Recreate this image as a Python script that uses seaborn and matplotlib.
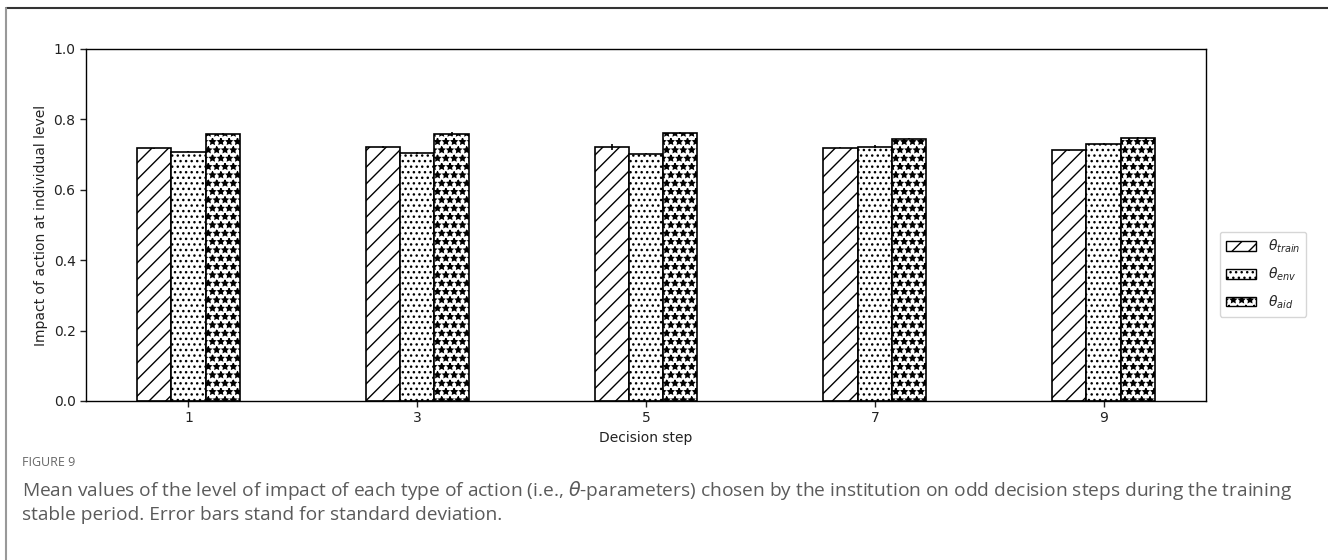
import matplotlib
matplotlib.use("Agg")
import matplotlib.pyplot as plt
import seaborn as sns
import pandas as pd
import numpy as np
from matplotlib.lines import Line2D
from matplotlib.patches import Patch

steps = ["1", "3", "5", "7", "9"]
series = [r"$\theta_{train}$", r"$\theta_{env}$", r"$\theta_{aid}$"]
train_mean = [0.718, 0.722, 0.722, 0.720, 0.712]
env_mean = [0.708, 0.705, 0.703, 0.722, 0.730]
aid_mean = [0.758, 0.758, 0.762, 0.745, 0.748]
train_sd = [0.002, 0.002, 0.008, 0.002, 0.002]
env_sd = [0.002, 0.002, 0.002, 0.004, 0.002]
aid_sd = [0.003, 0.005, 0.003, 0.002, 0.002]
hatches = ["//", "...", "**"]

means = [train_mean, env_mean, aid_mean]
sds = [train_sd, env_sd, aid_sd]
rows = []
for s, m, e in zip(series, means, sds):
    for st, v, d in zip(steps, m, e):
        rows.append({"step": st, "series": s, "value": v, "sd": d})
df = pd.DataFrame(rows)

sns.set_theme(style="white")
plt.rcParams["font.family"] = ["DejaVu Sans"]
plt.rcParams["hatch.linewidth"] = 1.0

fig = plt.figure(figsize=(13.28, 5.6), dpi=100)
ax = fig.add_axes([86 / 1328, 1 - 401 / 560, 1120 / 1328, 352 / 560])

sns.barplot(data=df, x="step", y="value", hue="series", hue_order=series,
            order=steps, width=0.45, errorbar=None, ax=ax,
            palette=["white"] * 3, edgecolor="black", linewidth=1.2,
            legend=False)

bar_containers = list(ax.containers)
for i, cont in enumerate(bar_containers):
    for bar, d in zip(cont, sds[i]):
        bar.set_hatch(hatches[i])
        bar.set_edgecolor("black")
        bar.set_facecolor("white")
        cx = bar.get_x() + bar.get_width() / 2
        ax.errorbar(cx, bar.get_height(), yerr=d, color="black",
                    linewidth=1.2, capsize=0)

ax.set_ylim(0, 1.0)
ax.set_xlim(-0.4475, 4.4475)
ax.set_yticks([0.0, 0.2, 0.4, 0.6, 0.8, 1.0])
ax.set_xlabel("Decision step", fontsize=10, color="#222222")
ax.set_ylabel("Impact of action at individual level", fontsize=10, color="#222222")
ax.tick_params(axis="both", labelsize=10, length=4, width=1, direction="out",
               bottom=True, left=True, colors="#222222")
for sp in ax.spines.values():
    sp.set_color("black")
    sp.set_linewidth(1.0)

handles = [Patch(facecolor="white", edgecolor="black", hatch=h) for h in hatches]
leg = ax.legend(handles, series, loc="center left", bbox_to_anchor=(1.006, 0.36),
                fontsize=10, frameon=True, handlelength=2.2, borderpad=0.45,
                labelspacing=0.75)
leg.get_frame().set_edgecolor("#cccccc")

# figure frame lines
fig.add_artist(Line2D([6 / 1328, 1], [1 - 8 / 560, 1 - 8 / 560], color="#333333", lw=1.5))
fig.add_artist(Line2D([6 / 1328, 6 / 1328], [0, 1 - 8 / 560], color="#999999", lw=1.5))

cap_font = ["Open Sans", "DejaVu Sans"]
fig.text(22 / 1328, 1 - 463 / 560, "FIGURE 9", fontsize=9, color="#666666",
         family=cap_font, va="center")
fig.text(22 / 1328, 1 - 491 / 560,
         "Mean values of the level of impact of each type of action (i.e., $\\theta$-parameters) chosen by the institution on odd decision steps during the training",
         fontsize=13.8, color="#5a5a5a", family=cap_font, va="center")
fig.text(22 / 1328, 1 - 515 / 560,
         "stable period. Error bars stand for standard deviation.",
         fontsize=13.8, color="#5a5a5a", family=cap_font, va="center")

fig.savefig("out.png", dpi=100)
